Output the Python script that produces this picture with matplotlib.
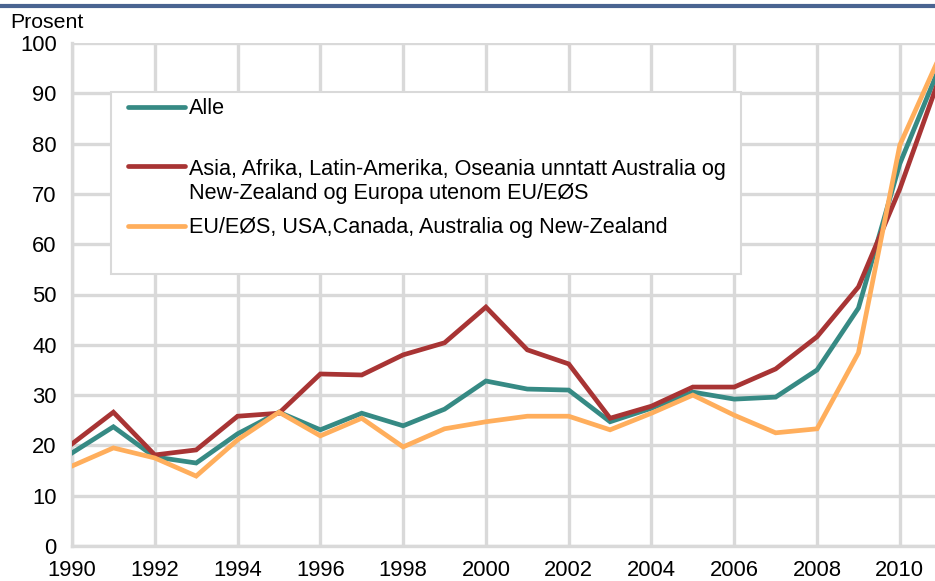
import matplotlib
matplotlib.use("Agg")
import matplotlib.pyplot as plt
from matplotlib.lines import Line2D
from matplotlib.patches import Rectangle

years = list(range(1990, 2012))
alle = [18.5, 23.7, 17.7, 16.5, 22.3, 26.6, 23.1, 26.4, 23.9, 27.2, 32.8,
        31.2, 31.0, 24.7, 27.4, 30.6, 29.2, 29.6, 35.0, 47.3, 76.0, 96.0]
asia = [20.3, 26.6, 18.1, 19.1, 25.8, 26.4, 34.2, 34.0, 38.0, 40.4, 47.5,
        39.0, 36.2, 25.4, 27.8, 31.6, 31.6, 35.2, 41.6, 51.5, 71.0, 94.0]
eu = [15.9, 19.5, 17.5, 13.9, 21.1, 26.6, 21.9, 25.4, 19.7, 23.3, 24.7,
      25.8, 25.8, 23.1, 26.4, 30.0, 26.0, 22.5, 23.3, 38.4, 79.7, 98.0]

labels = [["Alle"],
          ["Asia, Afrika, Latin-Amerika, Oseania unntatt Australia og",
           "New-Zealand og Europa utenom EU/EØS"],
          ["EU/EØS, USA,Canada, Australia og New-Zealand"]]
colors = ["#368A84", "#A83434", "#FFAE5C"]
xticks = list(range(1990, 2012, 2))
yticks = list(range(0, 101, 10))

plt.rcParams['font.family'] = ['Liberation Sans', 'DejaVu Sans']
W, H = 935, 581
fig = plt.figure(figsize=(W / 100, H / 100), dpi=100)

def fx(x):
    return x / W

def fy(y):
    return 1 - y / H

ax = fig.add_axes([fx(72), fy(546), fx(935) - fx(72), fy(43) - fy(546)])
grid_c = "#D9D9D9"
ax.set_xlim(1990, 2010.85)
ax.set_ylim(0, 100)
ax.set_xticks(xticks)
ax.set_yticks(yticks)
ax.grid(True, color=grid_c, linewidth=2.4, zorder=0)
ax.set_axisbelow(True)
for s in ["top", "right"]:
    ax.spines[s].set_visible(False)
for s in ["left", "bottom"]:
    ax.spines[s].set_color(grid_c)
    ax.spines[s].set_linewidth(2.4)
ax.tick_params(length=0, labelsize=15.8, colors="black")
ax.tick_params(axis="y", pad=11)
ax.tick_params(axis="x", pad=10)

for series, c in zip([alle, asia, eu], colors):
    ax.plot(years, series, color=c, linewidth=3.4, solid_joinstyle="miter", zorder=3)

# Legend drawn in figure pixel coordinates
fig.patches.append(Rectangle((fx(111), fy(274)), fx(741) - fx(111), fy(92) - fy(274),
                             transform=fig.transFigure, facecolor="white",
                             edgecolor=grid_c, linewidth=1.5, zorder=5))
handle_y = [107, 166, 226]
text_y = [109, 169, 228]
for hy, ty, lines, c in zip(handle_y, text_y, labels, colors):
    fig.lines.append(Line2D([fx(128), fx(185)], [fy(hy), fy(hy)], transform=fig.transFigure,
                            color=c, linewidth=3.4, solid_capstyle="round", zorder=6))
    for i, line in enumerate(lines):
        fig.text(fx(189), fy(ty + 25 * i), line, fontsize=15.6, va="center",
                 ha="left", zorder=6)

fig.text(fx(10), fy(22), "Prosent", fontsize=15.3, va="center", ha="left")
fig.lines.append(Line2D([0, 1], [fy(6), fy(6)], transform=fig.transFigure,
                        color="#4A6491", linewidth=3.0))

fig.savefig("out.png", dpi=100)
